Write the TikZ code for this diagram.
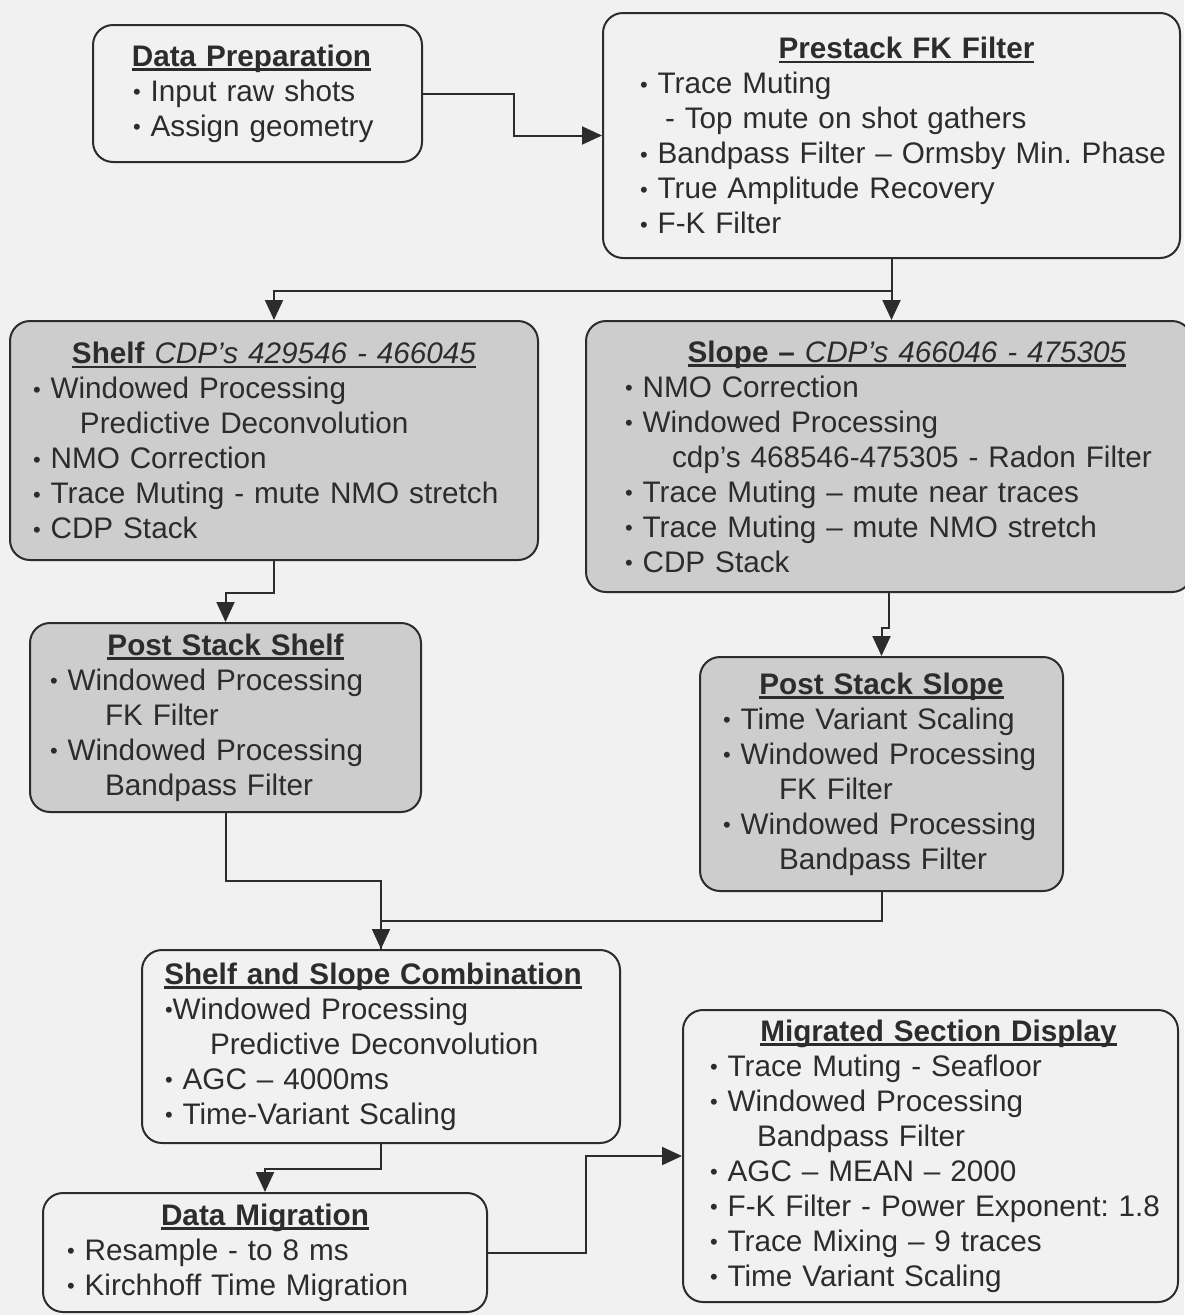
\documentclass[tikz,border=0pt]{standalone}
\usepackage{fontspec}
\setmainfont{Liberation Sans}
\usepackage{xcolor}
\usepackage{tikz}
\usetikzlibrary{arrows.meta,positioning}

\definecolor{paper}{HTML}{F1F1F1}
\definecolor{shade}{HTML}{CDCDCD}
\definecolor{ink}{HTML}{2C2C2C}

\frenchspacing
\newsavebox{\headbox}
\newcommand{\heading}[2][0pt]{\sbox{\headbox}{#2}\makebox[\linewidth][c]{\hspace*{#1}\rlap{\rule[-4.5pt]{\wd\headbox}{2.5pt}}\usebox{\headbox}\hspace*{-#1}}}
\newcommand{\bul}{{\fontsize{22}{22}\selectfont\raisebox{1.5pt}{\textbullet}}}
\newcommand{\itm}[1]{\mbox{\bul\ #1}}
\newcommand{\indt}[2]{\mbox{\hspace*{#1}#2}}

\begin{document}
\begin{tikzpicture}[
    x=1pt, y=-1pt,
    box/.style={rectangle, draw=ink, line width=2pt, fill=paper, rounded corners=20pt, align=left, inner ysep=0pt, text=ink, font=\fontsize{29.7}{35}\selectfont},
    greybox/.style={box, fill=shade},
    arrow/.style={-{Triangle[length=20pt,width=18pt]}, line width=2pt, draw=ink},
    link/.style={line width=2pt, draw=ink}
]

\fill[paper] (0,0) rectangle (1184,1315);
\useasboundingbox (0,0) rectangle (1184,1315);

% Nodes
\node[box, text width=249pt, inner xsep=40pt, minimum height=137pt] (prep) at (257.5,93.5)
  {\heading[-6pt]{\textbf{Data Preparation}}\\
   \itm{Input raw shots}\\
   \itm{Assign geometry}};
\node[box, text width=503pt, inner xsep=37pt, minimum height=245pt] (prestack) at (891.5,135.5)
  {\heading[15pt]{\textbf{Prestack FK Filter}}\\
   \itm{Trace Muting}\\
   \indt{25pt}{- Top mute on shot gathers}\\
   \itm{Bandpass Filter – Ormsby Min. Phase}\\
   \itm{True Amplitude Recovery}\\
   \itm{F-K Filter}};
\node[greybox, text width=482pt, inner xsep=23pt, minimum height=239pt] (shelf) at (274,440.5)
  {\heading{\textbf{Shelf} \textit{CDP’s 429546 - 466045}}\\
   \itm{Windowed Processing}\\
   \indt{47pt}{Predictive Deconvolution}\\
   \itm{NMO Correction}\\
   \itm{Trace Muting - mute NMO stretch}\\
   \itm{CDP Stack}};
\node[greybox, text width=528pt, inner xsep=39pt, minimum height=271pt] (slope) at (889,456.5)
  {\heading[18pt]{\textbf{Slope –} \textit{CDP’s 466046 - 475305}}\\
   \itm{NMO Correction}\\
   \itm{Windowed Processing}\\
   \indt{47pt}{cdp’s 468546-475305 - Radon Filter}\\
   \itm{Trace Muting – mute near traces}\\
   \itm{Trace Muting – mute NMO stretch}\\
   \itm{CDP Stack}};
\node[greybox, text width=351pt, inner xsep=20pt, minimum height=189pt] (postshelf) at (225.5,717.5)
  {\heading{\textbf{Post Stack Shelf}}\\
   \itm{Windowed Processing}\\
   \indt{55pt}{FK Filter}\\
   \itm{Windowed Processing}\\
   \indt{55pt}{Bandpass Filter}};
\node[greybox, text width=317pt, inner xsep=23pt, minimum height=234pt] (postslope) at (881.5,774)
  {\heading{\textbf{Post Stack Slope}}\\
   \itm{Time Variant Scaling}\\
   \itm{Windowed Processing}\\
   \indt{56pt}{FK Filter}\\
   \itm{Windowed Processing}\\
   \indt{56pt}{Bandpass Filter}};
\node[box, text width=432pt, inner xsep=23pt, minimum height=193pt] (combo) at (381,1046.5)
  {\heading[-8pt]{\textbf{Shelf and Slope Combination}}\\
   \mbox{\bul Windowed Processing}\\
   \indt{45pt}{Predictive Deconvolution}\\
   \itm{AGC – 4000ms}\\
   \itm{Time-Variant Scaling}};
\node[box, text width=396pt, inner xsep=24pt, minimum height=119pt] (datamig) at (265,1252.5)
  {\heading{\textbf{Data Migration}}\\
   \itm{Resample - to 8 ms}\\
   \itm{Kirchhoff Time Migration}};
\node[box, text width=441pt, inner xsep=27pt, minimum height=292pt] (migrated) at (930.5,1156)
  {\heading[8pt]{\textbf{Migrated Section Display}}\\
   \itm{Trace Muting - Seafloor}\\
   \itm{Windowed Processing}\\
   \indt{47pt}{Bandpass Filter}\\
   \itm{AGC – MEAN – 2000}\\
   \itm{F-K Filter - Power Exponent: 1.8}\\
   \itm{Trace Mixing – 9 traces}\\
   \itm{Time Variant Scaling}};

% Edges
\draw[arrow] (prep.east) -- ++(91,0) |- (prestack.west);
\draw[arrow] (prestack.south) -- (prestack.south |- slope.north);
\draw[arrow] (prestack.south) -- ++(0,32) -| (shelf.north);
\draw[arrow] (shelf.south) -- ++(0,32) -| (postshelf.north);
\draw[arrow] (slope.south) -- ++(0,35) -| (postslope.north);
\draw[link] (postslope.south) -- ++(0,29) -| (combo.north);
\draw[arrow] (postshelf.south) -- ++(0,68) -| (combo.north);
\draw[arrow] (combo.south) -- ++(0,25) -| (datamig.north);
\draw[arrow] (datamig.east) -- ++(98,0) |- (migrated.west);

\end{tikzpicture}
\end{document}
